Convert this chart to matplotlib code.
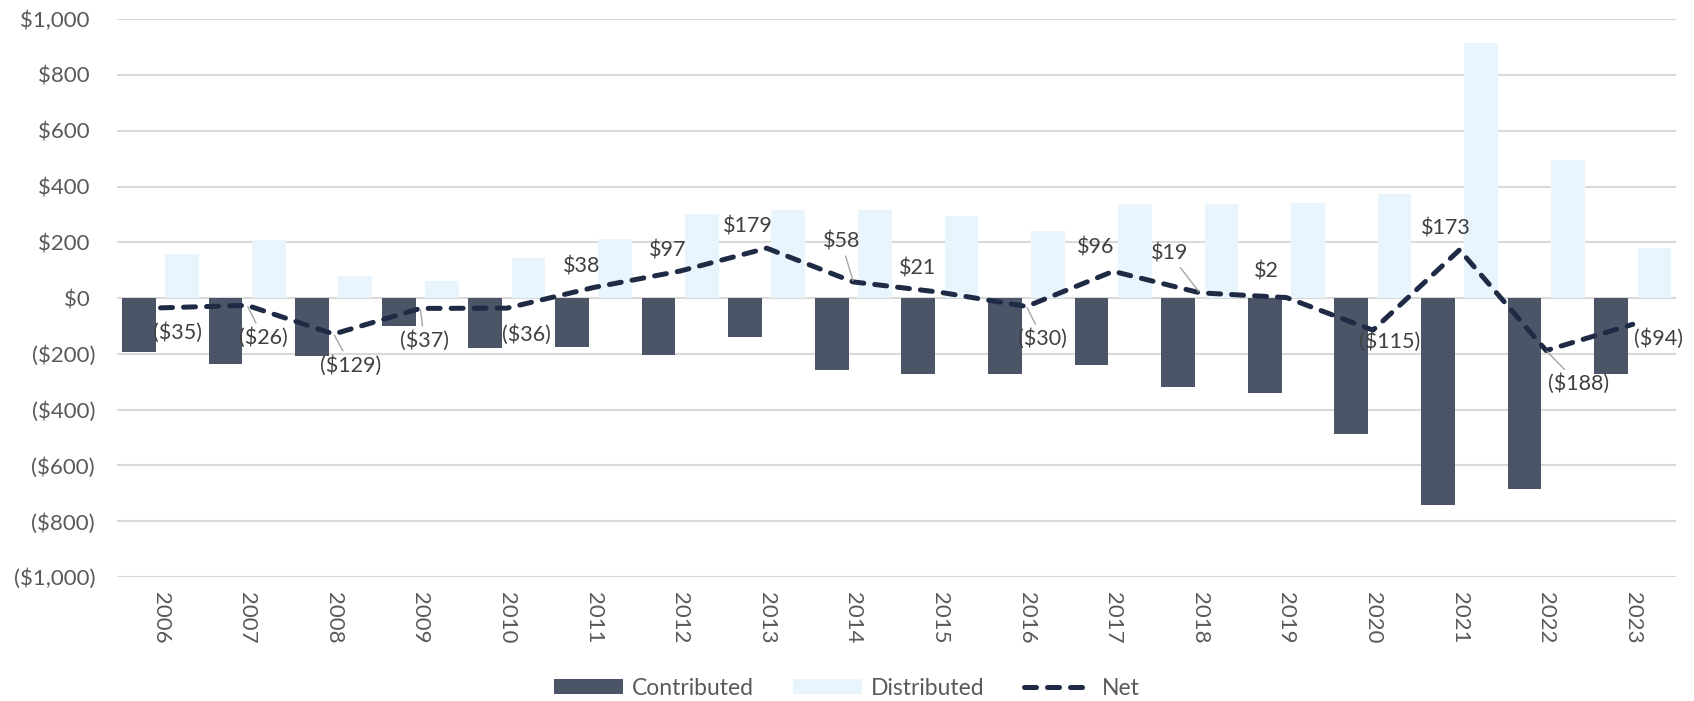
import matplotlib
matplotlib.use("Agg")
import matplotlib.pyplot as plt
import numpy as np
from matplotlib.ticker import FuncFormatter

plt.rcParams['font.family'] = ['Lato', 'DejaVu Sans']

# data ($)
years = [str(y) for y in range(2006, 2024)]
contributed = [-193, -236, -207, -99, -180, -174, -205, -138, -259, -272,
               -272, -241, -320, -339, -488, -742, -684, -272]
distributed = [158, 210, 78, 62, 144, 212, 302, 317, 317, 293,
               242, 337, 339, 341, 373, 915, 496, 178]
net = [-35, -26, -129, -37, -36, 38, 97, 179, 58, 21,
       -30, 96, 19, 2, -115, 173, -188, -94]

# label placement (pixel offsets from the point) and leader lines
label_dx = [17, 16, 17, 4, 20, -12, -12, -19, -12, -22, 16, -18, -30, -20, 17, -14, 32, 26]
label_dy = [-25, -32, -31, -32, -26, 21, 21, 22, 40, 24, -32, 24, 39, 26, -11, 21, -33, -14]
leader = [0, 1, 1, 1, 0, 0, 0, 0, 1, 0, 1, 0, 1, 0, 0, 0, 1, 0]

c_contrib = '#4b5567'
c_distr = '#e8f5fd'
c_net = '#1f2a44'
c_grid = '#d9d9d9'
c_tick = '#595959'


def money(v):
    if v < 0:
        return '(${:,.0f})'.format(-v)
    return '${:,.0f}'.format(v)


fig = plt.figure(figsize=(16.94, 7.01), dpi=100)
ax = fig.add_axes([0.0692, 0.1769, 0.9202, 0.7957])

x = np.arange(len(years))
w = 0.39
b1 = ax.bar(x - 0.25, contributed, w, color=c_contrib, label='Contributed', zorder=2)
b2 = ax.bar(x + 0.25, distributed, w, color=c_distr, label='Distributed', zorder=2)
line, = ax.plot(x, net, color=c_net, lw=3.6, linestyle=(0, (2.4, 2.2)),
                dash_capstyle='round', label='Net', zorder=3)

for i, v in enumerate(net):
    props = None
    if leader[i]:
        props = dict(arrowstyle='-', color='#a6a6a6', lw=1.0, shrinkA=1, shrinkB=1)
    ax.annotate(money(v), (x[i], v), xytext=(label_dx[i], label_dy[i]),
                textcoords='offset pixels', ha='center', va='center',
                fontsize=15.5, color='#404040', arrowprops=props, zorder=4)

ax.set_xlim(-0.5, len(years) - 0.5)
ax.set_ylim(-1000, 1000)
ax.set_yticks(np.arange(-1000, 1001, 200))
ax.yaxis.set_major_formatter(FuncFormatter(
    lambda v, p: money(v) if v < 0 else money(v) + ' '))
ax.set_xticks(x)
ax.set_xticklabels(years, rotation=-90)
ax.tick_params(axis='both', length=0, labelsize=16, colors=c_tick)
ax.tick_params(axis='y', pad=16)
ax.tick_params(axis='x', pad=11)
ax.grid(axis='y', color=c_grid, lw=1.5)
ax.set_axisbelow(True)
for s in ax.spines.values():
    s.set_visible(False)

fig.legend([b1, b2, line], ['Contributed', 'Distributed', 'Net'],
           loc='center', bbox_to_anchor=(0.5, 0.0185), ncol=3, frameon=False,
           fontsize=16.5, labelcolor=c_tick, handlelength=3.0, handleheight=0.65,
           handletextpad=0.4, columnspacing=1.7)

fig.savefig('out.png', dpi=100)
